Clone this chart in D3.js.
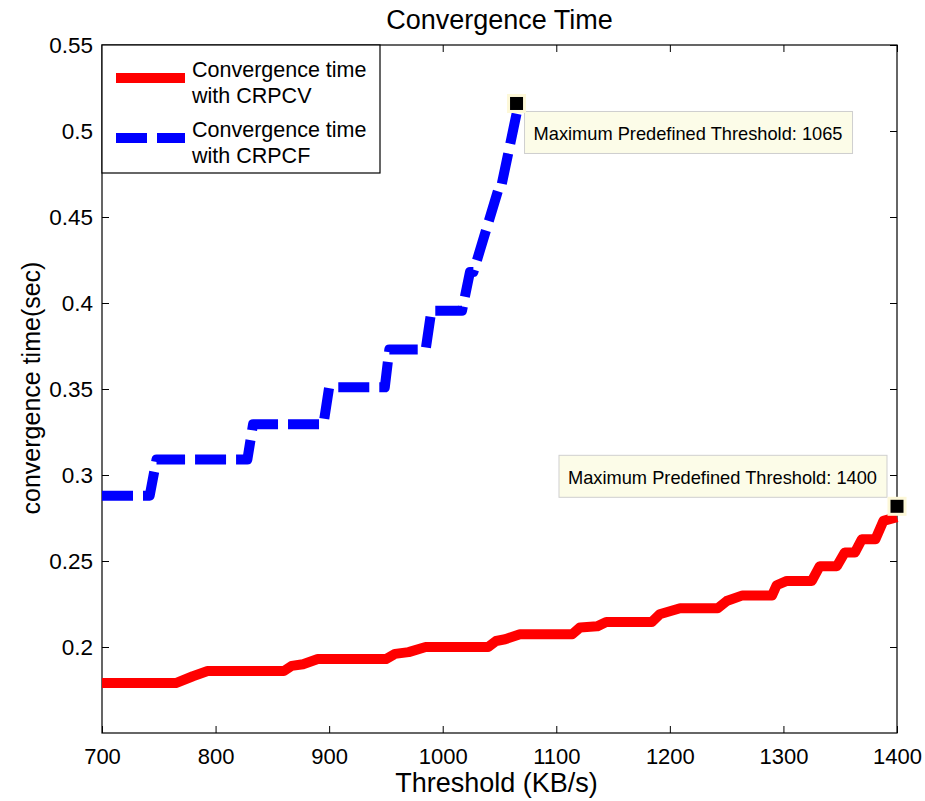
<!DOCTYPE html>
<html>
<head>
<meta charset="utf-8">
<script src="https://cdn.jsdelivr.net/npm/d3@7"></script>
<style>
  body { margin: 0; background: #fff; }
  svg text { font-family: "Liberation Sans", Arial, Helvetica, sans-serif; fill: #000; }
</style>
</head>
<body>
<div id="chart"></div>
<script>
// threshold (KB/s) and convergence time (sec)
var crpcvThreshold = [700, 765, 780, 793, 860, 867, 877, 890, 950, 958, 970, 985, 1040, 1047, 1055, 1068,
  1114, 1121, 1136, 1144, 1184, 1191, 1209, 1242, 1250, 1264, 1290, 1294, 1303, 1325, 1332, 1347,
  1354, 1363, 1369, 1381, 1388, 1400];
var crpcvTime = [0.179, 0.179, 0.183, 0.186, 0.186, 0.189, 0.190, 0.193, 0.193, 0.196, 0.197, 0.200,
  0.200, 0.2035, 0.2045, 0.2074, 0.2074, 0.2114, 0.212, 0.2145, 0.2145, 0.219, 0.2225, 0.2225, 0.2267,
  0.230, 0.230, 0.2359, 0.2384, 0.2384, 0.247, 0.247, 0.255, 0.255, 0.2626, 0.2626, 0.2733, 0.2755];

var crpcfThreshold = [700, 742, 748, 828, 833, 895, 900, 949, 953, 985, 990, 1017, 1024, 1027, 1049, 1051, 1065];
var crpcfTime = [0.288, 0.288, 0.309, 0.309, 0.3295, 0.3295, 0.351, 0.351, 0.373, 0.373, 0.3955, 0.3955,
  0.418, 0.418, 0.466, 0.466, 0.510];

var xTicks = [700, 800, 900, 1000, 1100, 1200, 1300, 1400];
var yTicks = [0.2, 0.25, 0.3, 0.35, 0.4, 0.45, 0.5, 0.55];

var seriesNames = ["Convergence time|with CRPCV", "Convergence time|with CRPCF"];
var seriesColors = ["#ff0000", "#0000ff"];

// data tips: [threshold, time, label]
var tipPoints = [[1065, 0.516, "Maximum Predefined Threshold: 1065"],
                 [1400, 0.2818, "Maximum Predefined Threshold: 1400"]];

var width = 925, height = 801;
var margin = {top: 45, right: 28, bottom: 68, left: 102};
var w = width - margin.left - margin.right;
var h = height - margin.top - margin.bottom;

var svg = d3.select("#chart").append("svg")
  .attr("width", width)
  .attr("height", height);

var g = svg.append("g")
  .attr("transform", "translate(" + margin.left + "," + margin.top + ")");

var x = d3.scaleLinear().domain([700, 1400]).range([0, w]);
var y = d3.scaleLinear().domain([0.15, 0.55]).range([h, 0]);

// axes, MATLAB style: ticks inward, box around
var fmtY = function(d) { return String(+d.toFixed(2)); };

g.append("g")
  .attr("transform", "translate(0," + h + ")")
  .call(d3.axisBottom(x).tickValues(xTicks).tickSize(-7).tickSizeOuter(0).tickPadding(15).tickFormat(d3.format("d")))
  .call(function(a) { a.select(".domain").remove(); a.selectAll("text").style("font-size", "22px"); });

g.append("g")
  .call(d3.axisTop(x).tickValues(xTicks).tickSize(-7).tickSizeOuter(0).tickFormat(""))
  .call(function(a) { a.select(".domain").remove(); });

g.append("g")
  .call(d3.axisLeft(y).tickValues(yTicks).tickSize(-7).tickSizeOuter(0).tickPadding(9).tickFormat(fmtY))
  .call(function(a) { a.select(".domain").remove(); a.selectAll("text").style("font-size", "22.5px"); });

g.append("g")
  .attr("transform", "translate(" + w + ",0)")
  .call(d3.axisRight(y).tickValues(yTicks).tickSize(-7).tickSizeOuter(0).tickFormat(""))
  .call(function(a) { a.select(".domain").remove(); });

g.selectAll(".tick line").attr("stroke", "#000");

g.append("rect")
  .attr("width", w).attr("height", h)
  .attr("fill", "none").attr("stroke", "#000").attr("stroke-width", 1.2);

// lines
var line = d3.line()
  .x(function(d) { return x(d[0]); })
  .y(function(d) { return y(d[1]); });

var redData = d3.zip(crpcvThreshold, crpcvTime);
var blueData = d3.zip(crpcfThreshold, crpcfTime);

g.append("path")
  .datum(redData)
  .attr("d", line)
  .attr("fill", "none")
  .attr("stroke", seriesColors[0])
  .attr("stroke-width", 10)
  .attr("stroke-linejoin", "round");

g.append("path")
  .datum(blueData)
  .attr("d", line)
  .attr("fill", "none")
  .attr("stroke", seriesColors[1])
  .attr("stroke-width", 10)
  .attr("stroke-linejoin", "round")
  .attr("stroke-dasharray", "31,10");

// data tips
tipPoints.forEach(function(p, i) {
  var px = x(p[0]), py = y(p[1]);
  var bw = 328, bh = 42;
  var bx = i === 0 ? px + 8 : px - 10 - bw;
  var by = i === 0 ? py + 8 : py - 9 - bh;
  g.append("rect")
    .attr("x", bx).attr("y", by).attr("width", bw).attr("height", bh)
    .attr("fill", "#fcfce8").attr("stroke", "#cfcfcf").attr("stroke-width", 1);
  g.append("text")
    .attr("x", bx + 9).attr("y", by + 29)
    .attr("textLength", 309).attr("lengthAdjust", "spacingAndGlyphs")
    .style("font-size", "19px")
    .text(p[2]);
  g.append("rect")
    .attr("x", px - 8).attr("y", py - 8).attr("width", 16).attr("height", 16)
    .attr("fill", "#000").attr("stroke", "#fdf8d8").attr("stroke-width", 3);
});

// legend
var legend = g.append("g");
legend.append("rect")
  .attr("width", 278).attr("height", 128)
  .attr("fill", "#fff").attr("stroke", "#000").attr("stroke-width", 1.2);

seriesNames.forEach(function(name, i) {
  var ly = 33 + i * 60;
  legend.append("line")
    .attr("x1", 14).attr("x2", 83).attr("y1", ly).attr("y2", ly)
    .attr("stroke", seriesColors[i]).attr("stroke-width", 10)
    .attr("stroke-dasharray", i === 1 ? "31,10" : null);
  var parts = name.split("|");
  parts.forEach(function(t, j) {
    legend.append("text")
      .attr("x", 90).attr("y", ly - 1 + j * 26)
      .style("font-size", "21.5px")
      .text(t);
  });
});

// title and axis labels
svg.append("text")
  .attr("x", margin.left + w / 2).attr("y", 29)
  .attr("text-anchor", "middle")
  .style("font-size", "27px")
  .text("Convergence Time");

svg.append("text")
  .attr("x", margin.left + w / 2 - 3).attr("y", 792)
  .attr("text-anchor", "middle")
  .style("font-size", "27px")
  .text("Threshold (KB/s)");

svg.append("text")
  .attr("transform", "translate(40,388) rotate(-90)")
  .attr("text-anchor", "middle")
  .style("font-size", "25px")
  .text("convergence time(sec)");
</script>
</body>
</html>
